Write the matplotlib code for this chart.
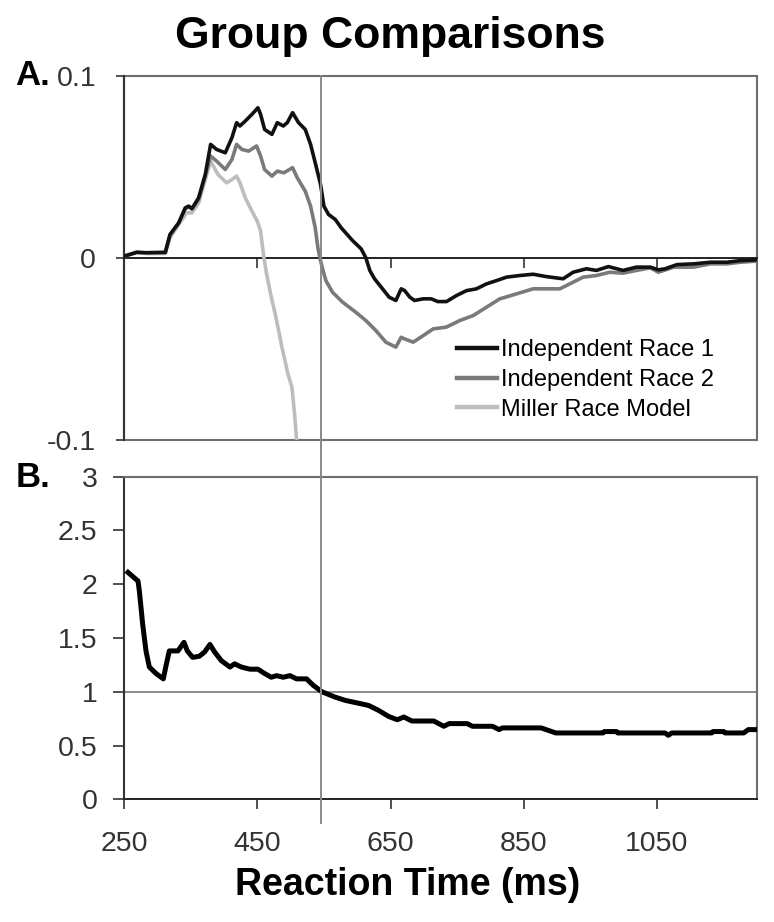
import matplotlib
matplotlib.use('Agg')
import matplotlib.pyplot as plt
import matplotlib.transforms as mtransforms
from matplotlib.lines import Line2D
from matplotlib.patches import Rectangle

plt.rcParams['font.family'] = ['Liberation Sans', 'DejaVu Sans']

# ---------------- Data ----------------
# Panel A: Independent Race 1
rt_ir1 = [251, 269, 284, 312, 319, 332, 342, 347, 352, 362, 372, 380, 389, 402, 412, 419,
          424, 432, 442, 451, 455, 461, 472, 480, 489, 495, 503, 512, 522, 530, 537, 545,
          550, 557, 567, 576, 593, 606, 613, 619, 626, 638, 648, 658, 666, 671, 679, 686,
          699, 711, 721, 734, 749, 764, 779, 794, 809, 824, 844, 864, 884, 909, 924, 944,
          959, 977, 999, 1019, 1040, 1052, 1062, 1080, 1105, 1130, 1155, 1175, 1200]
val_ir1 = [0.001, 0.003, 0.0028, 0.003, 0.0128, 0.0192, 0.0275, 0.0284, 0.0271, 0.033,
           0.0458, 0.0623, 0.0595, 0.0577, 0.066, 0.0742, 0.0724, 0.0751, 0.0788, 0.0824,
           0.0788, 0.0705, 0.0678, 0.0742, 0.0724, 0.0742, 0.0797, 0.0742, 0.0705, 0.0623,
           0.0522, 0.0403, 0.0284, 0.0238, 0.0211, 0.0165, 0.0095, 0.0049, 0.0, -0.007,
           -0.0115, -0.017, -0.0216, -0.0234, -0.017, -0.0179, -0.0216, -0.0234, -0.0225,
           -0.0225, -0.024, -0.024, -0.0207, -0.018, -0.017, -0.0143, -0.0125, -0.0106,
           -0.0097, -0.009, -0.0103, -0.0115, -0.0079, -0.006, -0.0069, -0.0048, -0.0069,
           -0.0051, -0.0051, -0.0066, -0.006, -0.0037, -0.0033, -0.0024, -0.0024, -0.0015,
           -0.0011]

# Panel A: Independent Race 2
rt_ir2 = [251, 269, 284, 312, 319, 332, 342, 347, 352, 362, 372, 380, 389, 402, 412, 419,
          427, 437, 449, 455, 461, 472, 480, 490, 503, 510, 522, 530, 537, 541, 544, 548,
          553, 563, 578, 598, 613, 628, 643, 658, 666, 671, 684, 699, 714, 734, 754, 774,
          794, 814, 839, 864, 884, 904, 919, 939, 959, 979, 999, 1019, 1040, 1052, 1075,
          1105, 1130, 1155, 1175, 1200]
val_ir2 = [0.001, 0.003, 0.0028, 0.003, 0.0125, 0.019, 0.027, 0.028, 0.0268, 0.032,
           0.045, 0.0559, 0.0531, 0.0485, 0.054, 0.0623, 0.0595, 0.0586, 0.0614, 0.0559,
           0.0485, 0.0449, 0.0476, 0.0467, 0.0495, 0.044, 0.0366, 0.0284, 0.0165, 0.0055,
           0.0, -0.006, -0.0125, -0.0189, -0.0243, -0.0299, -0.0344, -0.0399, -0.0463,
           -0.049, -0.0436, -0.0445, -0.0463, -0.0427, -0.039, -0.038, -0.0344, -0.0317,
           -0.0271, -0.0225, -0.0198, -0.017, -0.017, -0.017, -0.0143, -0.0106, -0.0097,
           -0.0079, -0.0084, -0.0069, -0.0055, -0.0079, -0.0051, -0.0051, -0.0033, -0.0033,
           -0.0024, -0.0018]

# Panel A: Miller Race Model
rt_miller = [251, 269, 284, 312, 319, 332, 344, 352, 362, 372, 380, 391, 404, 412, 419, 424,
             432, 442, 450, 455, 458, 460, 464, 470, 478, 487, 496, 502, 506, 509]
val_miller = [0.001, 0.0033, 0.0024, 0.0024, 0.011, 0.0183, 0.0247, 0.0247, 0.0302, 0.043,
              0.0531, 0.0458, 0.0412, 0.043, 0.0449, 0.0412, 0.033, 0.0256, 0.0202, 0.0147,
              0.0055, 0.0, -0.0088, -0.0198, -0.0326, -0.049, -0.0637, -0.071, -0.0856, -0.1]

# Panel B: ratio
rt_ratio = [256, 271, 273, 278, 283, 288, 298, 309, 313, 318, 331, 340, 345, 353, 363, 371,
            379, 386, 396, 409, 416, 426, 439, 451, 461, 471, 479, 489, 499, 509, 524, 534,
            547, 567, 582, 597, 617, 632, 647, 660, 670, 682, 715, 730, 738, 765, 773, 803,
            813, 818, 876, 898, 969, 971, 989, 991, 1062, 1067, 1072, 1132, 1134, 1150, 1152,
            1180, 1187, 1200]
val_ratio = [2.11, 2.03, 1.94, 1.63, 1.38, 1.23, 1.17, 1.12, 1.24, 1.38, 1.38, 1.46, 1.38,
             1.32, 1.33, 1.37, 1.44, 1.37, 1.29, 1.23, 1.26, 1.23, 1.21, 1.21, 1.17, 1.135,
             1.15, 1.135, 1.15, 1.12, 1.12, 1.06, 1.0, 0.95, 0.92, 0.90, 0.873, 0.827, 0.771,
             0.74, 0.765, 0.728, 0.728, 0.679, 0.704, 0.704, 0.679, 0.679, 0.648, 0.664, 0.664,
             0.617, 0.617, 0.63, 0.63, 0.617, 0.617, 0.595, 0.617, 0.617, 0.63, 0.63, 0.617,
             0.617, 0.648, 0.648]

series_labels = ['Independent Race 1', 'Independent Race 2', 'Miller Race Model']
xticks = [250, 450, 650, 850, 1050]
a_yticks = [-0.1, 0, 0.1]
a_yticklabels = ['-0.1', '0', '0.1']
b_yticks = [0, 0.5, 1, 1.5, 2, 2.5, 3]
b_yticklabels = ['0', '0.5', '1', '1.5', '2', '2.5', '3']
x_lim = (250, 1200)
crit_rt = 545

# ---------------- Figure ----------------
W, H = 774, 922
fig = plt.figure(figsize=(W / 100, H / 100), dpi=100)

def fx(px):
    return px / W

def fy(py):
    return 1 - py / H

left_px, right_px = 124, 757
axA = fig.add_axes([fx(left_px), fy(440), fx(right_px - left_px), (440 - 75.7) / H])
axB = fig.add_axes([fx(left_px), fy(799.3), fx(right_px - left_px), (799.3 - 476.7) / H])

tick_color = '#333333'
frame_color = '#6e6e6e'

# Panel A
axA.plot(rt_miller, val_miller, color='#bdbdbd', lw=2.6, label=series_labels[2], zorder=3)
axA.plot(rt_ir2, val_ir2, color='#7a7a7a', lw=2.6, label=series_labels[1], zorder=4)
axA.plot(rt_ir1, val_ir1, color='#111111', lw=2.6, label=series_labels[0], zorder=5)
axA.set_xlim(*x_lim)
axA.set_ylim(-0.1, 0.1)
for s in ['top', 'right']:
    axA.spines[s].set_visible(False)
axA.spines['bottom'].set_position(('data', 0))
axA.spines['bottom'].set_color('#222222')
axA.spines['bottom'].set_linewidth(1.4)
axA.spines['left'].set_color('#333333')
axA.spines['left'].set_linewidth(1.5)
axA.add_patch(Rectangle((0, 0), 1, 1, transform=axA.transAxes, fill=False,
                        ec=frame_color, lw=1.5, clip_on=False, zorder=1))
axA.set_xticks(xticks)
axA.set_xticklabels([])
axA.tick_params(axis='x', direction='out', length=7.5, width=1.2, color='#333333')
axA.set_yticks(a_yticks)
axA.set_yticklabels(a_yticklabels)
axA.tick_params(axis='y', direction='out', length=6, width=1.2, color='#333333',
                pad=14, labelsize=20.5, labelcolor=tick_color)

# legend order: IR1, IR2, Miller
handles, labels = axA.get_legend_handles_labels()
order = [labels.index(l) for l in series_labels]
leg = axA.legend([handles[i] for i in order], [labels[i] for i in order],
                 loc='upper left', bbox_to_anchor=((457 - left_px) / (right_px - left_px),
                                                   (440 - 339) / (440 - 75.7)),
                 frameon=False, fontsize=17, handlelength=1.7, handletextpad=0.15,
                 labelspacing=0.33, borderpad=0, borderaxespad=0)
for h in leg.get_lines():
    h.set_linewidth(3.2)

# Panel B
axB.plot(rt_ratio, val_ratio, color='#000000', lw=3.6, zorder=5)
axB.axhline(1, color='#8a8a8a', lw=1.4, zorder=2)
axB.set_xlim(*x_lim)
axB.set_ylim(0, 3)
for s in ['top', 'right']:
    axB.spines[s].set_color(frame_color)
    axB.spines[s].set_linewidth(1.5)
axB.spines['bottom'].set_color('#222222')
axB.spines['bottom'].set_linewidth(1.4)
axB.spines['left'].set_color('#333333')
axB.spines['left'].set_linewidth(1.5)
axB.set_xticks(xticks)
axB.set_xticklabels([str(v) for v in xticks])
axB.tick_params(axis='x', direction='out', length=7.5, width=1.2, color='#333333',
                pad=15, labelsize=20.5, labelcolor=tick_color)
axB.set_yticks(b_yticks)
axB.set_yticklabels(b_yticklabels)
axB.tick_params(axis='y', direction='out', length=8, width=1.2, color='#333333',
                pad=11, labelsize=20.5, labelcolor=tick_color)

# vertical reference line spanning both panels
blend = mtransforms.blended_transform_factory(axB.transData, fig.transFigure)
fig.add_artist(Line2D([crit_rt, crit_rt], [fy(75.7), fy(823)], transform=blend,
                      color='#8a8a8a', lw=1.4, zorder=10))

# Texts
fig.text(fx(390), fy(48), 'Group Comparisons', ha='center', va='baseline',
         fontsize=32, fontweight='bold')
fig.text(fx(408), fy(895), 'Reaction Time (ms)', ha='center', va='baseline',
         fontsize=27, fontweight='bold')
fig.text(fx(15), fy(85), 'A.', ha='left', va='baseline', fontsize=25, fontweight='bold')
fig.text(fx(16), fy(487), 'B.', ha='left', va='baseline', fontsize=25, fontweight='bold')

fig.savefig('out.png', dpi=100)
